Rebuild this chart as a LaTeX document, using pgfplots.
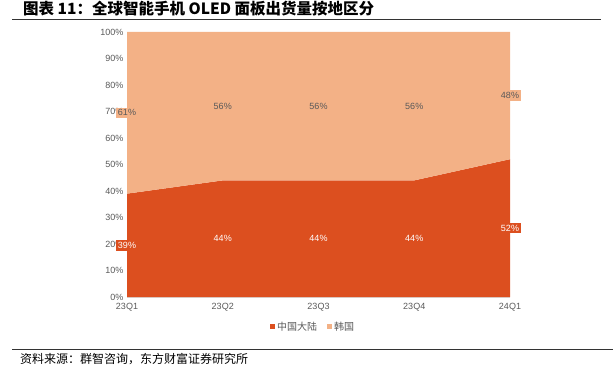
\documentclass[border=0pt]{standalone}
\usepackage{fontspec}
\setmainfont{Liberation Sans}
\newfontfamily\cjk{Noto Sans CJK SC}
\usepackage{pgfplots}
\pgfplotsset{compat=1.18}
\definecolor{cnC}{HTML}{DC4F1F}
\definecolor{krC}{HTML}{F3B186}
\definecolor{tickC}{HTML}{595959}
\definecolor{axC}{HTML}{D9D9D9}
\begin{document}
\begin{tikzpicture}[x=1pt,y=1pt]
\path[use as bounding box] (0,0) rectangle (613,378);
\node[anchor=west,font=\cjk\bfseries\fontsize{15.5}{17}\selectfont,inner sep=0pt] at (23,369) {图表 11：全球智能手机 OLED 面板出货量按地区分};
\draw[black!80,line width=0.8pt] (12,359) -- (601,359);
\draw[black!80,line width=0.8pt] (12,29) -- (613,29);
\node[anchor=west,font=\cjk\fontsize{12}{14}\selectfont,inner sep=0pt] at (20,19) {资料来源：群智咨询，东方财富证券研究所};
\begin{axis}[
  at={(127pt,81pt)}, anchor=south west,
  scale only axis, width=383pt, height=265pt,
  xmin=0, xmax=4, ymin=0, ymax=100,
  xtick={0,1,2,3,4}, xticklabels={23Q1,23Q2,23Q3,23Q4,24Q1},
  ytick={0,10,...,100}, yticklabel={\pgfmathprintnumber{\tick}\%},
  /pgf/number format/assume math mode=true,
  ticklabel style={font=\fontsize{9}{10}\selectfont, text=tickC},
  xticklabel style={yshift=-3pt},
  major tick length=0pt,
  axis x line=bottom, axis y line=left,
  axis line style={draw=axC, -},
  legend style={at={(0.486,-0.113)}, anchor=center, draw=none, fill=none,
    font=\cjk\fontsize{10}{11}\selectfont, text=tickC, legend columns=2,
    /tikz/every even column/.append style={column sep=8pt}},
  legend image code/.code={\fill[#1] (0pt,-2.5pt) rectangle (5pt,2.5pt);},
]
\addplot[draw=none, fill=cnC, stack plots=y] coordinates {(0,39) (1,44) (2,44) (3,44) (4,52)} \closedcycle;
\addlegendentry{中国大陆}
\addplot[draw=none, fill=krC, stack plots=y] coordinates {(0,61) (1,56) (2,56) (3,56) (4,48)} \closedcycle;
\addlegendentry{韩国}
% labels for China
\addplot[draw=none, forget plot, nodes near coords, point meta=explicit symbolic,
  every node near coord/.append style={anchor=center, fill=cnC, text=white, inner sep=2pt,
  font=\fontsize{9}{10}\selectfont}]
  table[meta=label] {
x y label
0 19.5 39\%
1 22 44\%
2 22 44\%
3 22 44\%
4 26 52\%
};
% labels for Korea
\addplot[draw=none, forget plot, nodes near coords, point meta=explicit symbolic,
  every node near coord/.append style={anchor=center, fill=krC, text=tickC, inner sep=2pt,
  font=\fontsize{9}{10}\selectfont}]
  table[meta=label] {
x y label
0 69.5 61\%
1 72 56\%
2 72 56\%
3 72 56\%
4 76 48\%
};
\end{axis}
\end{tikzpicture}
\end{document}
